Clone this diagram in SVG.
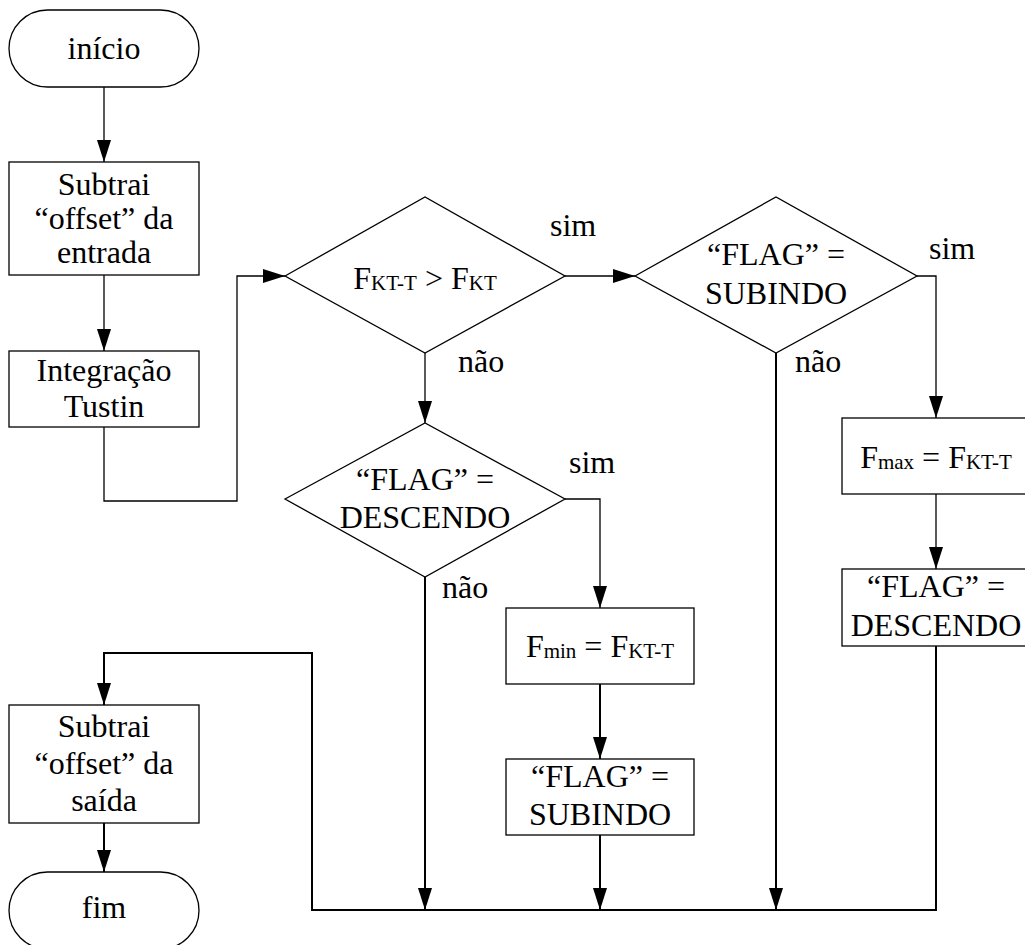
<svg xmlns="http://www.w3.org/2000/svg" width="1025" height="945" viewBox="0 0 1025 945">
<style>
.shape{fill:#fff;stroke:#000;stroke-width:1.3}
.t{font-family:"Liberation Serif","Times New Roman",Times,serif;font-size:32px;fill:#000}
.c{text-anchor:middle}
.sub{font-size:21px}
.ln{fill:none;stroke:#000;stroke-width:1.3}
.lnb{fill:none;stroke:#000;stroke-width:2}
</style>
<defs>
<marker id="ah" markerUnits="userSpaceOnUse" markerWidth="22" markerHeight="14" refX="22" refY="7" orient="auto">
<path d="M0,0 L22,7 L0,14 z" fill="#000"/>
</marker>
</defs>
<rect width="1025" height="945" fill="#fff"/>
<g id="connectors">
<path class="ln" d="M104,87 V162" marker-end="url(#ah)"/>
<path class="ln" d="M104,275 V351" marker-end="url(#ah)"/>
<path class="ln" d="M104,427 V501 H237 V276 H285" marker-end="url(#ah)"/>
<path class="ln" d="M565,276 H635" marker-end="url(#ah)"/>
<path class="ln" d="M425,353 V423" marker-end="url(#ah)"/>
<path class="ln" d="M917,276 H936 V418" marker-end="url(#ah)"/>
<path class="ln" d="M936,494 V569" marker-end="url(#ah)"/>
<path class="lnb" d="M936,646 V910 H312 V653 H104 V705" marker-end="url(#ah)"/>
<path class="lnb" d="M776,353 V910" marker-end="url(#ah)"/>
<path class="ln" d="M565,499 H600 V608" marker-end="url(#ah)"/>
<path class="lnb" d="M425,577 V910" marker-end="url(#ah)"/>
<path class="lnb" d="M600,684 V759" marker-end="url(#ah)"/>
<path class="lnb" d="M600,835 V910" marker-end="url(#ah)"/>
<path class="lnb" d="M104,823 V872" marker-end="url(#ah)"/>
</g>
<g id="inicio">
<rect class="shape" x="9" y="10" width="190" height="77" rx="38.5" ry="38.5"/>
<text class="t c" x="104" y="59">início</text>
</g>
<g id="subtrai-entrada">
<rect class="shape" x="9" y="162" width="190" height="113"/>
<text class="t c" x="104" y="195">Subtrai</text>
<text class="t c" x="104" y="229">“offset” da</text>
<text class="t c" x="104" y="263">entrada</text>
</g>
<g id="integracao">
<rect class="shape" x="9" y="351" width="190" height="76"/>
<text class="t c" x="104" y="381">Integração</text>
<text class="t c" x="104" y="417">Tustin</text>
</g>
<g id="dec1">
<polygon class="shape" points="285,276 425,197 565,276 425,353"/>
<text class="t c" x="425" y="289">F<tspan class="sub" dy="1">KT-T</tspan><tspan dy="-1"> &gt; F</tspan><tspan class="sub" dy="1">KT</tspan></text>
<text class="t" x="550" y="236">sim</text>
<text class="t" x="458" y="372">não</text>
</g>
<g id="dec2">
<polygon class="shape" points="635,276 776,197 917,276 776,353"/>
<text class="t c" x="776" y="265">“FLAG” =</text>
<text class="t c" x="776" y="304">SUBINDO</text>
<text class="t" x="929" y="259">sim</text>
<text class="t" x="795" y="372">não</text>
</g>
<g id="dec3">
<polygon class="shape" points="285,499 425,423 565,499 425,577"/>
<text class="t c" x="425" y="490">“FLAG” =</text>
<text class="t c" x="425" y="528">DESCENDO</text>
<text class="t" x="569" y="473">sim</text>
<text class="t" x="442" y="598">não</text>
</g>
<g id="fmin">
<rect class="shape" x="506" y="608" width="188" height="76"/>
<text class="t c" x="600" y="657">F<tspan class="sub" dy="1">min</tspan><tspan dy="-1"> = F</tspan><tspan class="sub" dy="1">KT-T</tspan></text>
</g>
<g id="flag-subindo">
<rect class="shape" x="506" y="759" width="188" height="76"/>
<text class="t c" x="600" y="787">“FLAG” =</text>
<text class="t c" x="600" y="825">SUBINDO</text>
</g>
<g id="fmax">
<rect class="shape" x="842" y="418" width="188" height="76"/>
<text class="t c" x="936" y="468">F<tspan class="sub" dy="1">max</tspan><tspan dy="-1"> = F</tspan><tspan class="sub" dy="1">KT-T</tspan></text>
</g>
<g id="flag-descendo">
<rect class="shape" x="842" y="569" width="188" height="77"/>
<text class="t c" x="936" y="597">“FLAG” =</text>
<text class="t c" x="936" y="636">DESCENDO</text>
</g>
<g id="subtrai-saida">
<rect class="shape" x="9" y="705" width="190" height="118"/>
<text class="t c" x="104" y="737">Subtrai</text>
<text class="t c" x="104" y="774">“offset” da</text>
<text class="t c" x="104" y="811">saída</text>
</g>
<g id="fim">
<rect class="shape" x="9" y="872" width="190" height="77" rx="38.5" ry="38.5"/>
<text class="t c" x="104" y="918">fim</text>
</g>
</svg>
